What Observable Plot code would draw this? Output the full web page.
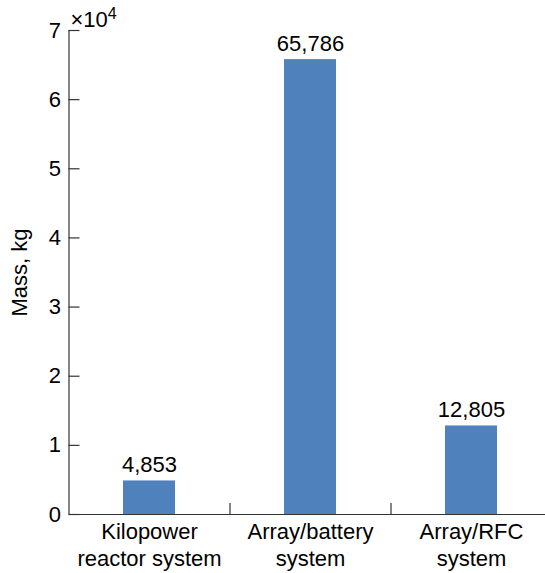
<!DOCTYPE html>
<html>
<head>
<meta charset="utf-8">
<script src="https://cdn.jsdelivr.net/npm/d3@7"></script>
<script src="https://cdn.jsdelivr.net/npm/@observablehq/plot@0.6"></script>
<style>
  html, body { margin: 0; padding: 0; background: #fff; }
  svg { display: block; }
</style>
</head>
<body>
<div id="chart"></div>
<script>
const categories = ["Kilopower\nreactor system", "Array/battery\nsystem", "Array/RFC\nsystem"];
const masses = [4853, 65786, 12805];
const yTickValues = [0, 10000, 20000, 30000, 40000, 50000, 60000, 70000];
const yTickLabels = ["0", "1", "2", "3", "4", "5", "6", "7"];
const yLabel = "Mass, kg";
const multiplierBase = "×10";
const multiplierExponent = "4";

const data = categories.map((c, i) => ({category: c, mass: masses[i]}));

const W = 545, H = 573;
const mL = 68.5, mR = 0, mT = 30, mB = 59;
const FONT = "Liberation Sans, Arial, Helvetica, sans-serif";
const FS = 22;
const barColor = "#4f81bd";
const axisColor = "#333";
const xRange = [mL, mL + 161 * categories.length];
const step = (xRange[1] - xRange[0]) / categories.length;
const innerH = H - mT - mB;
const yMax = 70000;
const tickLenData = 11 / innerH * yMax;

const chart = Plot.plot({
  width: W,
  height: H,
  marginLeft: mL,
  marginRight: mR,
  marginTop: mT,
  marginBottom: mB,
  style: {fontFamily: FONT, fontSize: FS + "px", color: "#000", background: "#fff"},
  x: {type: "band", domain: categories, range: xRange, paddingInner: 0.68, paddingOuter: 0.34},
  y: {domain: [0, yMax]},
  marks: [
    Plot.barY(data, {x: "category", y: "mass", fill: barColor}),
    Plot.text(data, {x: "category", y: "mass", text: d => d3.format(",")(d.mass), lineAnchor: "bottom", dy: -9, fontSize: FS, fill: "#000"}),
    Plot.axisY({ticks: yTickValues, tickFormat: (d, i) => yTickLabels[i], tickSize: 0, tickPadding: 8, fontSize: FS, label: yLabel, labelAnchor: "center", labelArrow: "none", labelOffset: 58}),
    Plot.ruleY(yTickValues, {y: d => d, stroke: axisColor, strokeWidth: 1.2, insetRight: (W - mL - mR) - 11}),
    Plot.ruleX(categories, {x: d => d, dx: -step / 2, y1: 0, y2: (d, i) => i === 0 ? yMax : tickLenData, stroke: axisColor, strokeWidth: 1.2}),
    Plot.ruleY([0], {stroke: axisColor, strokeWidth: 1.2}),
    Plot.axisX({tickSize: 0, tickPadding: 6, fontSize: FS, lineHeight: 1.2, label: null})
  ]
});

const svg = d3.select(chart);
const t = svg.append("text")
  .attr("x", mL + 2)
  .attr("y", mT - 3)
  .attr("text-anchor", "start")
  .attr("font-family", FONT)
  .attr("font-size", FS)
  .attr("fill", "#000");
t.append("tspan").text(multiplierBase);
t.append("tspan").attr("dy", -8).attr("font-size", 16).text(multiplierExponent);

document.getElementById("chart").appendChild(chart);
</script>
</body>
</html>
